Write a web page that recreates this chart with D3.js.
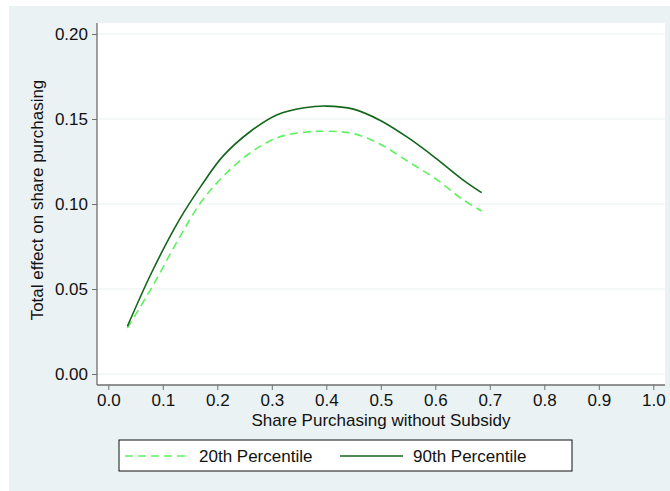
<!DOCTYPE html>
<html>
<head>
<meta charset="utf-8">
<script src="https://d3js.org/d3.v7.min.js"></script>
<style>
  body { margin: 0; background: #ffffff; }
  svg { display: block; font-family: "Liberation Sans", Arial, sans-serif; }
</style>
</head>
<body>
<div class="chart"></div>
<script>
var svgWidth = 670;
var svgHeight = 491;

// data
var shareX = [0.035, 0.08, 0.13, 0.17, 0.21, 0.26, 0.31, 0.36, 0.40, 0.45, 0.50, 0.55, 0.60, 0.65, 0.685];
var p90 = [0.028, 0.060, 0.0905, 0.1105, 0.1280, 0.1425, 0.1525, 0.1566, 0.1576, 0.1558, 0.1490, 0.1390, 0.1272, 0.1144, 0.1067];
var p20 = [0.027, 0.051, 0.0800, 0.1010, 0.1160, 0.1300, 0.1390, 0.1422, 0.1428, 0.1414, 0.1350, 0.1250, 0.1150, 0.1027, 0.0959];
var xTicks = [0, 0.1, 0.2, 0.3, 0.4, 0.5, 0.6, 0.7, 0.8, 0.9, 1.0];
var yTicks = [0, 0.05, 0.10, 0.15, 0.20];
var seriesNames = ["20th Percentile", "90th Percentile"];

var fontSize = 17;

var svg = d3.select(".chart")
  .append("svg")
  .attr("width", svgWidth)
  .attr("height", svgHeight);

// outer background
svg.append("rect")
  .attr("x", 9).attr("y", 6)
  .attr("width", svgWidth - 9).attr("height", svgHeight - 6)
  .attr("fill", "#eaf2f3");

// plot region
var plot = { left: 97, top: 23, right: 665, bottom: 385 };
svg.append("rect")
  .attr("x", plot.left).attr("y", plot.top)
  .attr("width", plot.right - plot.left).attr("height", plot.bottom - plot.top)
  .attr("fill", "#ffffff");

var x = d3.scaleLinear().domain([0, 1]).range([108.3, 653.3]);
var y = d3.scaleLinear().domain([0, 0.2]).range([374, 34]);

// gridlines
svg.append("g")
  .selectAll("line")
  .data(yTicks)
  .enter()
  .append("line")
  .attr("x1", plot.left + 1).attr("x2", plot.right)
  .attr("y1", d => y(d)).attr("y2", d => y(d))
  .attr("stroke", "#eaf2f3")
  .attr("stroke-width", 1.2);

// axes
var xAxis = svg.append("g")
  .attr("transform", `translate(0, ${plot.bottom})`)
  .call(d3.axisBottom(x).tickValues(xTicks).tickFormat(d3.format(".1f")).tickSize(5).tickSizeOuter(0));

var yAxis = svg.append("g")
  .attr("transform", `translate(${plot.left}, 0)`)
  .call(d3.axisLeft(y).tickValues(yTicks).tickFormat(d3.format(".2f")).tickSize(5).tickSizeOuter(0));

[xAxis, yAxis].forEach(function(a) {
  a.select(".domain").attr("stroke", "#6e6e6e").attr("stroke-width", 1.3);
  a.selectAll(".tick line").attr("stroke", "#6e6e6e");
  a.selectAll(".tick text").attr("fill", "#111").attr("font-size", fontSize);
});
xAxis.select(".domain").attr("d", `M${plot.left},0H${plot.right}`);
yAxis.select(".domain").attr("d", `M0,${plot.top}V${plot.bottom}`);
xAxis.selectAll(".tick text").attr("y", 9).attr("dy", "0.71em");
yAxis.selectAll(".tick text").attr("x", -9);

// axis titles
svg.append("text")
  .attr("x", 381).attr("y", 426)
  .attr("text-anchor", "middle")
  .attr("font-size", fontSize)
  .attr("fill", "#111")
  .text("Share Purchasing without Subsidy");

svg.append("text")
  .attr("transform", "rotate(-90)")
  .attr("x", -200).attr("y", 43)
  .attr("text-anchor", "middle")
  .attr("font-size", fontSize)
  .attr("fill", "#111")
  .text("Total effect on share purchasing");

// lines
var line = d3.line()
  .x(d => x(d[0]))
  .y(d => y(d[1]))
  .curve(d3.curveCatmullRom.alpha(0.5));

svg.append("path")
  .datum(shareX.map((v, i) => [v, p20[i]]))
  .attr("d", line)
  .attr("fill", "none")
  .attr("stroke", "#5ef25e")
  .attr("stroke-width", 1.6)
  .attr("stroke-dasharray", "8,5");

svg.append("path")
  .datum(shareX.map((v, i) => [v, p90[i]]))
  .attr("d", line)
  .attr("fill", "none")
  .attr("stroke", "#13661a")
  .attr("stroke-width", 1.6);

// legend
svg.append("rect")
  .attr("x", 119).attr("y", 440)
  .attr("width", 453).attr("height", 31)
  .attr("fill", "#ffffff")
  .attr("stroke", "#111")
  .attr("stroke-width", 1);

svg.append("line")
  .attr("x1", 125).attr("x2", 189).attr("y1", 456).attr("y2", 456)
  .attr("stroke", "#5ef25e").attr("stroke-width", 1.6)
  .attr("stroke-dasharray", "8,5");
svg.append("text")
  .attr("x", 199).attr("y", 462)
  .attr("font-size", fontSize).attr("fill", "#111")
  .text(seriesNames[0]);

svg.append("line")
  .attr("x1", 340).attr("x2", 403).attr("y1", 456).attr("y2", 456)
  .attr("stroke", "#13661a").attr("stroke-width", 1.6);
svg.append("text")
  .attr("x", 413).attr("y", 462)
  .attr("font-size", fontSize).attr("fill", "#111")
  .text(seriesNames[1]);
</script>
</body>
</html>
